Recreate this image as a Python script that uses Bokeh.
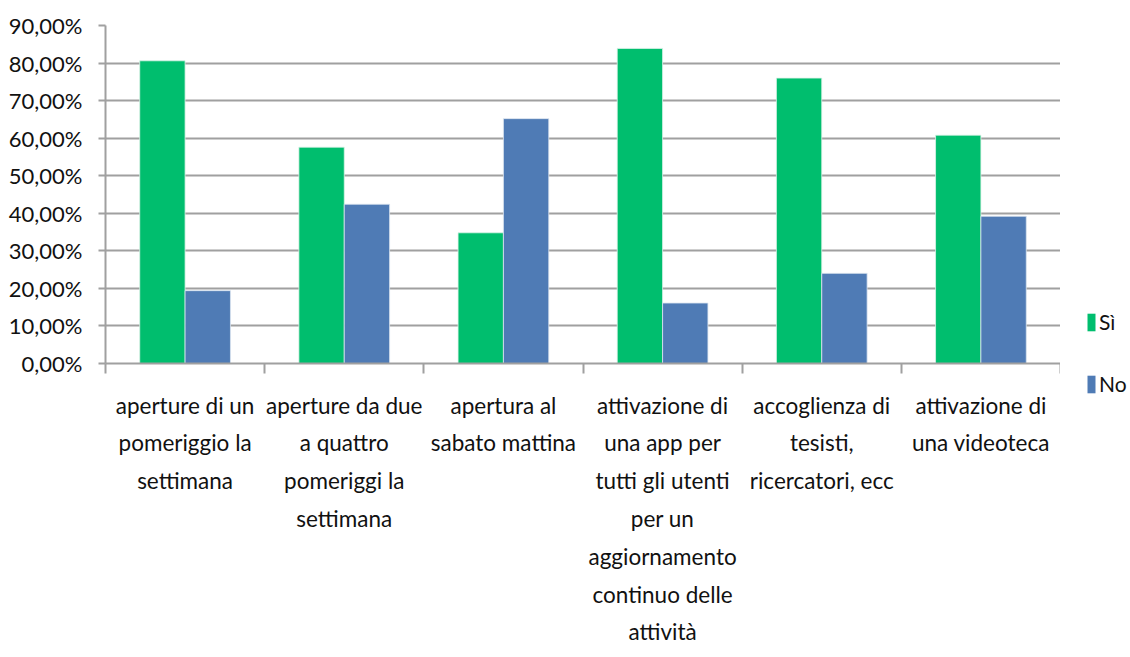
from bokeh.plotting import figure
from bokeh.layouts import row, column
from bokeh.models import (ColumnDataSource, FixedTicker, Range1d, Legend, LegendItem, Spacer)
from bokeh.transform import dodge
from bokeh.embed import file_html
from bokeh.resources import INLINE

categories = [
    "aperture di un\npomeriggio la\nsettimana",
    "aperture da due\na quattro\npomeriggi la\nsettimana",
    "apertura al\nsabato mattina",
    "attivazione di\nuna app per\ntutti gli utenti\nper un\naggiornamento\ncontinuo delle\nattività",
    "accoglienza di\ntesisti,\nricercatori, ecc",
    "attivazione di\nuna videoteca",
]
si_values = [80.6, 57.6, 34.8, 83.9, 76.0, 60.8]
no_values = [19.4, 42.4, 65.2, 16.1, 24.0, 39.2]
series_names = ["Sì", "No"]
y_ticks = [0, 10, 20, 30, 40, 50, 60, 70, 80, 90]
y_tick_labels = ["0,00%", "10,00%", "20,00%", "30,00%", "40,00%", "50,00%",
                 "60,00%", "70,00%", "80,00%", "90,00%"]

GREEN = "#00BE6E"
BLUE = "#4F7BB5"
GRID = "#A0A0A0"
FONT = "Lato"
TEXT = "#111111"

n = len(categories)
centers = [i + 0.5 for i in range(n)]
source = ColumnDataSource(dict(x=centers, si=si_values, no=no_values))

p = figure(width=1060, height=657, output_backend="svg", toolbar_location=None,
           x_range=Range1d(0, n), y_range=Range1d(0, 90),
           min_border_left=105, min_border_right=0, min_border_top=25,
           min_border_bottom=294)
p.outline_line_color = None
p.background_fill_color = "white"
p.border_fill_color = "white"

bw = 0.285
r_si = p.vbar(x=dodge("x", -bw / 2, range=p.x_range), top="si", width=bw, bottom=0,
              source=source, fill_color=GREEN, line_color="#DDF3E8", line_width=0.8)
r_no = p.vbar(x=dodge("x", bw / 2, range=p.x_range), top="no", width=bw, bottom=0,
              source=source, fill_color=BLUE, line_color="#DCE4F0", line_width=0.8)

# grid
p.xgrid.visible = False
p.ygrid.grid_line_color = GRID
p.ygrid.grid_line_width = 2
p.ygrid.ticker = FixedTicker(ticks=y_ticks)

# y axis
yax = p.yaxis[0]
yax.ticker = FixedTicker(ticks=y_ticks)
yax.major_label_overrides = {t: lab for t, lab in zip(y_ticks, y_tick_labels)}
yax.axis_line_color = GRID
yax.axis_line_width = 2
yax.major_tick_line_color = GRID
yax.major_tick_line_width = 2
yax.major_tick_out = 7
yax.major_tick_in = 0
yax.minor_tick_line_color = None
yax.major_label_standoff = 16
yax.major_label_text_font = FONT
yax.major_label_text_font_size = "22px"
yax.major_label_text_color = TEXT

# x axis
xax = p.xaxis[0]
xax.ticker = FixedTicker(ticks=centers, minor_ticks=list(range(n + 1)))
xax.major_label_overrides = {c: lab for c, lab in zip(centers, categories)}
xax.axis_line_color = GRID
xax.axis_line_width = 2
xax.major_tick_out = 0
xax.major_tick_in = 0
xax.major_tick_line_color = None
xax.minor_tick_line_color = GRID
xax.minor_tick_line_width = 2
xax.minor_tick_out = 10
xax.minor_tick_in = 0
xax.major_label_standoff = 18
xax.major_label_text_font = FONT
xax.major_label_text_font_size = "22.5px"
xax.major_label_text_line_height = 1.4
xax.major_label_text_color = TEXT
xax.major_label_orientation = "horizontal"

# legend panel to the right of the plot area
pl = figure(width=70, height=130, output_backend="svg", toolbar_location=None,
            x_range=Range1d(0, 1), y_range=Range1d(0, 1),
            min_border_left=0, min_border_right=0, min_border_top=0, min_border_bottom=0)
pl.axis.visible = False
pl.grid.visible = False
pl.outline_line_color = None
pl.border_fill_color = "white"
pl.background_fill_color = "white"
l_si = pl.vbar(x=[2], top=[2], width=1, fill_color=GREEN, line_color=None)
l_no = pl.vbar(x=[2], top=[2], width=1, fill_color=BLUE, line_color=None)

legend = Legend(items=[LegendItem(label=series_names[0], renderers=[l_si]),
                       LegendItem(label=series_names[1], renderers=[l_no])],
                location=(26, 24), orientation="vertical")
legend.glyph_width = 10
legend.glyph_height = 22
legend.label_height = 22
legend.spacing = 37
legend.padding = 0
legend.margin = 0
legend.label_standoff = 3
legend.label_text_font = FONT
legend.label_text_font_size = "21px"
legend.label_text_color = TEXT
legend.border_line_color = None
legend.background_fill_alpha = 0
pl.add_layout(legend, "center")

layout = row(p, column(Spacer(width=70, height=290), pl))
open("out.html", "w").write(file_html(layout, INLINE))
